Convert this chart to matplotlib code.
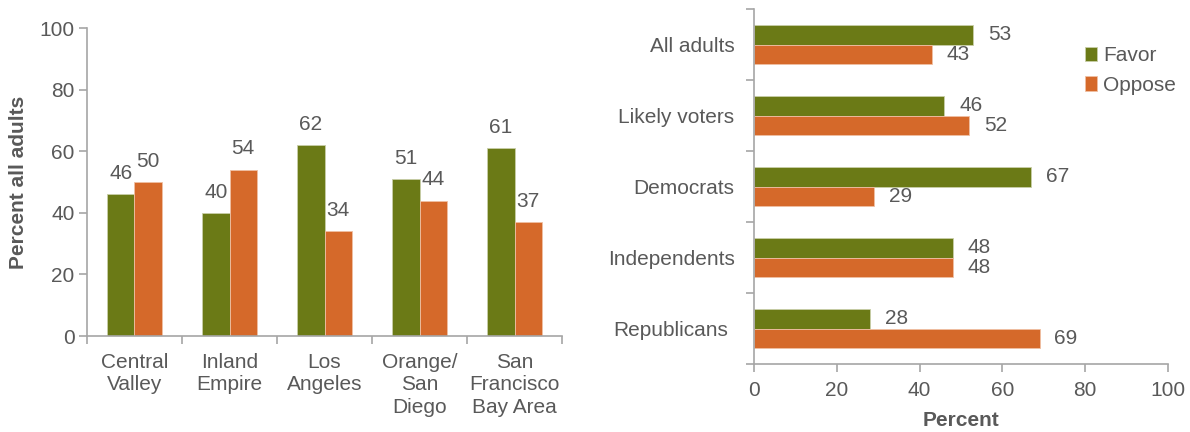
import matplotlib
matplotlib.use("Agg")
import matplotlib.pyplot as plt
import matplotlib.transforms as mtransforms
import numpy as np

plt.rcParams['font.family'] = ['Liberation Sans', 'DejaVu Sans']

regions = ["Central\nValley", "Inland\nEmpire", "Los\nAngeles", "Orange/\nSan\nDiego", "San\nFrancisco\nBay Area"]
region_favor = [46, 40, 62, 51, 61]
region_oppose = [50, 54, 34, 44, 37]

groups = ["All adults", "Likely voters", "Democrats", "Independents", "Republicans"]
group_favor = [53, 46, 67, 48, 28]
group_oppose = [43, 52, 29, 48, 69]

series_names = ["Favor", "Oppose"]
left_ticks = [0, 20, 40, 60, 80, 100]
right_ticks = [0, 20, 40, 60, 80, 100]

GREEN = "#6B7A16"
ORANGE = "#D5692A"
TXT = "#595959"
AX = "#A6A6A6"
FS = 15

fig = plt.figure(figsize=(11.9, 4.32), dpi=100)

# ---- Left chart ----
ax1 = fig.add_axes([0.0731, 0.2222, 0.3992, 0.7128])
x = np.arange(len(regions))
w = 0.285
b1 = ax1.bar(x - w/2, region_favor, w, color=GREEN, edgecolor="#c9cfa8", linewidth=0.6)
b2 = ax1.bar(x + w/2, region_oppose, w, color=ORANGE, edgecolor="#efc0a3", linewidth=0.6)
for bars, vals in ((b1, region_favor), (b2, region_oppose)):
    for r, v in zip(bars, vals):
        ax1.annotate(str(v), (r.get_x() + r.get_width()/2, v), xytext=(0, 15),
                     textcoords="offset points", ha="center", va="center",
                     fontsize=FS, color=TXT)
ax1.set_xlim(-0.5, len(regions) - 0.5)
ax1.set_ylim(0, 100)
ax1.set_yticks(left_ticks)
ax1.set_xticks(np.arange(len(regions) + 1) - 0.5)
ax1.set_xticklabels([])
ax1.set_xticks(x, minor=True)
ax1.set_xticklabels(regions, minor=True, fontsize=FS, color=TXT, va="top", linespacing=1.25)
ax1.tick_params(axis="x", which="minor", length=0, pad=12)
ax1.tick_params(axis="x", which="major", length=6, color=AX, width=1.2, direction="out")
ax1.tick_params(axis="y", length=6, color=AX, width=1.2, labelsize=FS, labelcolor=TXT, pad=3)
for s in ("top", "right"):
    ax1.spines[s].set_visible(False)
for s in ("left", "bottom"):
    ax1.spines[s].set_color(AX)
    ax1.spines[s].set_linewidth(1.2)
ax1.set_ylabel("Percent all adults", fontsize=FS, fontweight="bold", color=TXT, labelpad=8)

# ---- Right chart ----
ax2 = fig.add_axes([0.6336, 0.1574, 0.3479, 0.8216])
y = np.arange(len(groups))
h = 0.28
c1 = ax2.barh(y - h/2, group_favor, h, color=GREEN, edgecolor="#c9cfa8", linewidth=0.6, label=series_names[0])
c2 = ax2.barh(y + h/2, group_oppose, h, color=ORANGE, edgecolor="#efc0a3", linewidth=0.6, label=series_names[1])
for bars, vals in ((c1, group_favor), (c2, group_oppose)):
    for r, v in zip(bars, vals):
        ax2.annotate(str(v), (v, r.get_y() + r.get_height()/2), xytext=(19, 0),
                     textcoords="offset points", ha="center", va="center",
                     fontsize=FS, color=TXT)
ax2.set_ylim(len(groups) - 0.5, -0.5)
ax2.set_xlim(0, 100)
ax2.set_xticks(right_ticks)
ax2.set_yticks(np.arange(len(groups) + 1) - 0.5)
ax2.set_yticklabels([])
ax2.set_yticks(y, minor=True)
ax2.set_yticklabels(groups, minor=True, fontsize=FS, color=TXT)
ax2.tick_params(axis="y", which="minor", length=0, pad=14)
ax2.tick_params(axis="y", which="major", length=6, color=AX, width=1.2)
ax2.tick_params(axis="x", length=6, color=AX, width=1.2, labelsize=FS, labelcolor=TXT, pad=6)
# last label sits slightly left in the reference
lbl = ax2.get_yticklabels(minor=True)[-1]
lbl.set_transform(lbl.get_transform() + mtransforms.ScaledTranslation(-6/100, 0, fig.dpi_scale_trans))
for s in ("top", "right"):
    ax2.spines[s].set_visible(False)
for s in ("left", "bottom"):
    ax2.spines[s].set_color(AX)
    ax2.spines[s].set_linewidth(1.2)
ax2.set_xlabel("Percent", fontsize=FS, fontweight="bold", color=TXT, labelpad=8)

leg = fig.legend(handles=[c1, c2], labels=series_names, loc="upper left",
                 bbox_to_anchor=(0.912, 0.893), frameon=False, fontsize=FS,
                 handlelength=0.55, handleheight=0.7, handletextpad=0.3,
                 labelspacing=0.5, borderpad=0, borderaxespad=0)
for t in leg.get_texts():
    t.set_color(TXT)

fig.savefig("out.png", dpi=100)
